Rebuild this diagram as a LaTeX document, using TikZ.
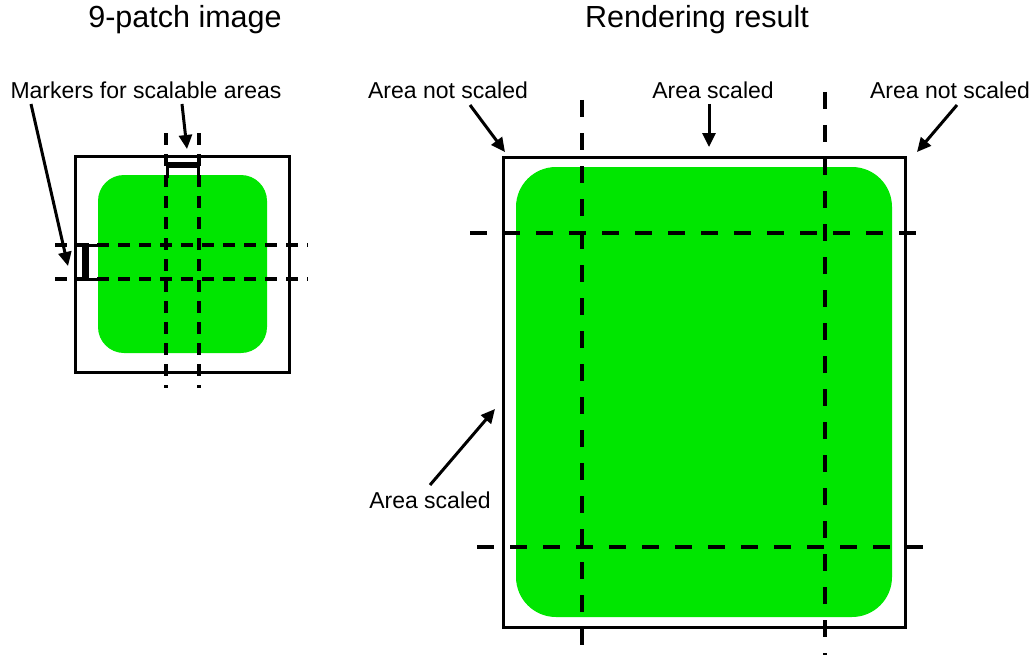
\documentclass[tikz,border=0pt]{standalone}
\usepackage{fontspec}
\setmainfont{Liberation Sans}
\usetikzlibrary{arrows.meta}
\definecolor{patchgreen}{RGB}{0,230,0}
\begin{document}
\begin{tikzpicture}[x=1pt,y=-1pt,
  frame/.style={draw=black,line width=3pt},
  guide/.style={draw=black,line width=3.1pt,dash pattern=on 12pt off 9pt},
  bigguide/.style={draw=black,line width=3.1pt,dash pattern=on 17pt off 16pt},
  arr/.style={draw=black,line width=3pt,-{Triangle[length=14pt,width=13pt]}},
  lab/.style={font=\fontsize{23}{26}\selectfont,inner sep=0pt},
  ttl/.style={font=\fontsize{30.5}{34}\selectfont,inner sep=0pt},
  blob/.style={fill=patchgreen}]
\useasboundingbox (0,0) rectangle (1035,658);
% titles
\node[ttl] (t1) at (185,20) {9-patch image};
\node[ttl] (t2) at (697,20) {Rendering result};
% ---------- left: 9-patch ----------
\fill[blob,rounded corners=26pt] (98,175) rectangle (267,353);
\draw[frame] (75,156) rectangle (289,372);
\draw[guide] (166,133) -- (166,388);
\draw[guide] (199,133) -- (199,388);
\draw[guide] (55,245) -- (308,245);
\draw[guide] (55,279) -- (308,279);
% markers
\draw[line width=6pt] (166,165) -- (199,165);
\draw[line width=3pt] (167,165) -- (167,178) (198,165) -- (198,178);
\draw[line width=7pt] (85,243) -- (85,281);
\draw[line width=3pt] (85,245) -- (97,245) (85,279) -- (97,279);
\node[lab] (mk) at (146,90) {Markers for scalable areas};
\coordinate (mkA) at (31,104);
\coordinate (mkB) at (182,104);
\coordinate (tipA) at (68,266);
\coordinate (tipB) at (187,149);
\draw[arr] (mkA) -- (tipA);
\draw[arr] (mkB) -- (tipB);
% ---------- right: rendering ----------
\fill[blob,rounded corners=40pt] (516,167) rectangle (892,617);
\draw[frame] (503,157) rectangle (905,627);
\draw[bigguide] (582,100) -- (582,658);
\draw[bigguide] (825,92) -- (825,655);
\draw[bigguide] (470,233) -- (930,233);
\draw[bigguide] (477,547) -- (927,547);
\node[lab] (nl) at (448,90) {Area not scaled};
\node[lab] (sc) at (713,90) {Area scaled};
\node[lab] (nr) at (950,90) {Area not scaled};
\node[lab] (sb) at (430,500) {Area scaled};
\coordinate (nlA) at (470,105);
\coordinate (nlT) at (505,152);
\coordinate (scA) at (709,104);
\coordinate (scT) at (709,147);
\coordinate (nrA) at (957,105);
\coordinate (nrT) at (917,152);
\coordinate (sbA) at (430,485);
\coordinate (sbT) at (495,409);
\draw[arr] (nlA) -- (nlT);
\draw[arr] (scA) -- (scT);
\draw[arr] (nrA) -- (nrT);
\draw[arr] (sbA) -- (sbT);
\end{tikzpicture}
\end{document}
